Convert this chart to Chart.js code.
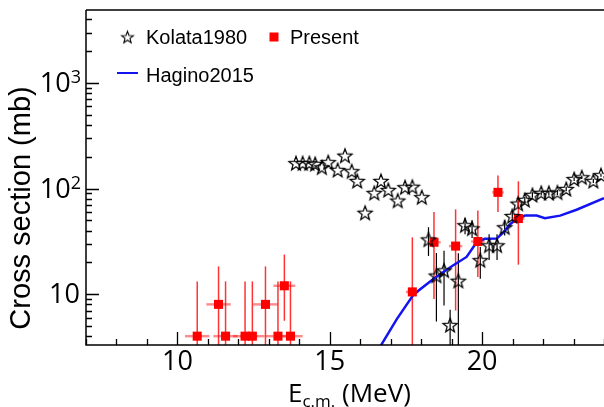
<!DOCTYPE html>
<html>
<head>
<meta charset="utf-8">
<script src="https://cdn.jsdelivr.net/npm/chart.js@4.4.0/dist/chart.umd.min.js"></script>
<style>
  html, body { margin: 0; padding: 0; background: #fff; overflow: hidden; }
</style>
</head>
<body>
<canvas id="xsec" width="604" height="407"></canvas>
<script>
// Kolata1980 (open stars)
const kolataE = [13.89, 14.11, 14.33, 14.52, 14.74, 14.95, 15.26, 15.50, 15.72, 15.90,
                 16.16, 16.46, 16.68, 16.92, 17.23, 17.47, 17.71, 18.02, 18.24, 18.50,
                 18.75, 18.95, 19.22, 19.44, 19.67, 19.94, 20.23, 20.49, 20.74, 20.99,
                 21.18, 21.40, 21.65, 21.94, 22.19, 22.47, 22.76, 23.02, 23.27, 23.65, 23.90];
const kolataXS = [174, 174, 174, 171, 159, 178, 150, 205, 146, 118,
                  59, 91, 118, 97, 77, 103, 104, 83, 33, 15,
                  16.8, 5.1, 13.4, 45, 42, 21, 29, 29, 43, 55,
                  72, 78, 87, 91, 91, 92, 99, 123, 128, 118, 134];
const kolataErr = [0, 0, 0, 0, 0, 0, 0, 0, 0, 0,
                   0, 0, 0, 0, 0, 0, 0, 0, 10, 9.5,
                   9, 2, 11, 8, 8, 7, 8, 8, 7, 6,
                   5, 5, 5, 5, 5, 5, 5, 5, 5, 5, 5];

// Present (red squares)
const presentE = [10.65, 11.35, 11.58, 12.22, 12.46, 12.89, 13.30, 13.51, 13.71,
                  17.71, 18.42, 19.13, 19.86, 20.52, 21.19];
const presentXS = [4, 8, 4, 4, 4, 8, 4, 12, 4, 10.5, 31, 28.5, 31.5, 92, 52];
const presentErrHi = [9.2, 10.3, 9.2, 9.2, 9.2, 10.3, 9.2, 11.7, 9.2, 24, 29, 35, 30.5, 41, 65];
const presentErrLo = [4, 8, 4, 4, 4, 8, 4, 6.4, 4, 10.5, 22, 21.5, 17, 32, 33];
const presentErrE = [0.4, 0.4, 0.4, 0.4, 0.4, 0.4, 0.4, 0.36, 0.4, 0.21, 0.22, 0.22, 0.22, 0.19, 0.2];

// Hagino2015 (blue curve)
const haginoE = [16.60, 17.20, 17.76, 18.40, 19.03, 19.49, 19.82, 20.09, 20.48,
                 20.70, 20.92, 21.14, 21.41, 21.79, 22.06, 22.56, 23.10, 24.00];
const haginoXS = [3.0, 5.8, 10.0, 13.9, 18.6, 22.5, 31, 33.4, 33.6,
                  38.5, 46, 51.6, 55.4, 55.4, 52.3, 55.4, 63, 81];

const xMajorTicks = [10, 15, 20];
const yMajorTicks = [10, 100, 1000];

const RED = '#ff0000';
const BLUE = 'rgb(20, 20, 240)';

function makeStar(r, lw) {
    const c = document.createElement('canvas');
    const size = Math.ceil(2 * r + 2 * lw + 2);
    c.width = c.height = size;
    const g = c.getContext('2d');
    const cx = size / 2, cy = size / 2 + r * 0.1;
    g.beginPath();
    for (let i = 0; i < 10; i++) {
        const rad = i % 2 ? r * 0.42 : r;
        const ang = -Math.PI / 2 + i * Math.PI / 5;
        g.lineTo(cx + rad * Math.cos(ang), cy + rad * Math.sin(ang));
    }
    g.closePath();
    g.strokeStyle = '#000';
    g.lineWidth = lw;
    g.stroke();
    return c;
}

const starImg = makeStar(7.4, 1.25);
const legendStar = makeStar(6.2, 1.1);

const errorBars = {
    id: 'errorBars',
    beforeDatasetsDraw(chart) {
        const { ctx, chartArea: a, scales: { x, y } } = chart;
        const yPix = v => v > 0 ? y.getPixelForValue(v) : a.bottom + 10;
        ctx.save();
        ctx.beginPath();
        ctx.rect(a.left, a.top, a.right - a.left, a.bottom - a.top);
        ctx.clip();

        ctx.strokeStyle = '#000';
        ctx.lineWidth = 1.2;
        kolataE.forEach((e, i) => {
            if (!kolataErr[i]) return;
            const px = x.getPixelForValue(e);
            ctx.beginPath();
            ctx.moveTo(px, yPix(kolataXS[i] - kolataErr[i]));
            ctx.lineTo(px, yPix(kolataXS[i] + kolataErr[i]));
            ctx.stroke();
        });

        ctx.strokeStyle = 'rgba(255, 0, 0, 0.45)';
        ctx.lineWidth = 2.5;
        presentE.forEach((e, i) => {
            const py = y.getPixelForValue(presentXS[i]);
            ctx.beginPath();
            ctx.moveTo(x.getPixelForValue(e - presentErrE[i]), py);
            ctx.lineTo(x.getPixelForValue(e + presentErrE[i]), py);
            ctx.stroke();
        });

        ctx.strokeStyle = 'rgba(255, 0, 0, 0.8)';
        ctx.lineWidth = 1.5;
        presentE.forEach((e, i) => {
            const px = x.getPixelForValue(e);
            ctx.beginPath();
            ctx.moveTo(px, yPix(presentXS[i] - presentErrLo[i]));
            ctx.lineTo(px, yPix(presentXS[i] + presentErrHi[i]));
            ctx.stroke();
        });
        ctx.restore();
    }
};

const frameAndLabels = {
    id: 'frameAndLabels',
    afterDraw(chart) {
        const { ctx, chartArea: a, scales: { x, y } } = chart;
        ctx.save();
        ctx.strokeStyle = '#000';
        ctx.lineWidth = 1.5;
        ctx.beginPath();
        ctx.moveTo(a.left, a.top);
        ctx.lineTo(a.right + 2, a.top);
        ctx.moveTo(a.left, a.top);
        ctx.lineTo(a.left, a.bottom);
        ctx.lineTo(a.right + 2, a.bottom);
        ctx.stroke();

        // inward ticks
        ctx.lineWidth = 1.3;
        ctx.beginPath();
        for (let e = Math.ceil(x.min); e <= x.max; e++) {
            const px = Math.round(x.getPixelForValue(e)) + 0.5;
            const len = xMajorTicks.includes(e) ? 13 : 6;
            ctx.moveTo(px, a.bottom);
            ctx.lineTo(px, a.bottom - len);
        }
        for (let d = 1; d <= 1000; d *= 10) {
            for (let m = 1; m <= 9; m++) {
                const v = m * d;
                if (v < y.min || v > y.max) continue;
                const py = Math.round(y.getPixelForValue(v)) + 0.5;
                const len = m === 1 ? 13 : 6;
                ctx.moveTo(a.left, py);
                ctx.lineTo(a.left + len, py);
            }
        }
        ctx.stroke();

        ctx.fillStyle = '#000';
        // x tick labels
        ctx.font = '27px "Open Sans", sans-serif';
        ctx.textAlign = 'center';
        ctx.textBaseline = 'alphabetic';
        xMajorTicks.forEach(v => {
            ctx.fillText(String(v), x.getPixelForValue(v), 370);
        });

        // y tick labels with superscript exponent
        ctx.textAlign = 'right';
        yMajorTicks.forEach(v => {
            const py = y.getPixelForValue(v);
            const exp = Math.round(Math.log10(v));
            if (exp === 1) {
                ctx.font = '27px "Open Sans", sans-serif';
                ctx.fillText('10', 80, py + 9);
            } else {
                ctx.font = '18px "Open Sans", sans-serif';
                ctx.fillText(String(exp), 81, py);
                const w = ctx.measureText(String(exp)).width;
                ctx.font = '27px "Open Sans", sans-serif';
                ctx.fillText('10', 81 - w, py + 9);
            }
        });

        // y title
        ctx.save();
        ctx.translate(30, 208);
        ctx.rotate(-Math.PI / 2);
        ctx.textAlign = 'center';
        ctx.font = '29px "Liberation Sans", Arial, sans-serif';
        ctx.fillText('Cross section (mb)', 0, 0);
        ctx.restore();

        // x title: E subscript c.m.
        ctx.textAlign = 'left';
        let tx = 288;
        ctx.font = '26px "Open Sans", sans-serif';
        ctx.fillText('E', tx, 402);
        tx += ctx.measureText('E').width;
        ctx.font = '17px "Open Sans", sans-serif';
        ctx.fillText('c.m.', tx, 407);
        tx += ctx.measureText('c.m.').width;
        ctx.font = '26px "Open Sans", sans-serif';
        ctx.fillText(' (MeV)', tx, 402);

        // legend
        const ds = chart.data.datasets;
        ctx.font = '20px "Liberation Sans", Arial, sans-serif';
        ctx.drawImage(legendStar, 127.5 - legendStar.width / 2, 37 - legendStar.height / 2);
        ctx.fillText(ds[0].label, 146, 44);
        ctx.fillStyle = RED;
        ctx.fillRect(269.5, 32.5, 9, 9);
        ctx.fillStyle = '#000';
        ctx.fillText(ds[1].label, 290, 44);
        ctx.strokeStyle = BLUE;
        ctx.lineWidth = 2;
        ctx.beginPath();
        ctx.moveTo(117, 73);
        ctx.lineTo(138, 73);
        ctx.stroke();
        ctx.fillText(ds[2].label, 146, 81.5);
        ctx.restore();
    }
};

new Chart(document.getElementById('xsec'), {
    type: 'scatter',
    data: {
        datasets: [
            {
                label: 'Kolata1980',
                data: kolataE.map((e, i) => ({ x: e, y: kolataXS[i] })),
                pointStyle: starImg,
                pointRadius: 8,
                order: 0
            },
            {
                label: 'Present',
                data: presentE.map((e, i) => ({ x: e, y: presentXS[i] })),
                pointStyle: 'rect',
                pointRadius: 6.4,
                backgroundColor: RED,
                borderWidth: 0,
                order: 1
            },
            {
                label: 'Hagino2015',
                type: 'line',
                data: haginoE.map((e, i) => ({ x: e, y: haginoXS[i] })),
                borderColor: BLUE,
                borderWidth: 2.5,
                pointRadius: 0,
                fill: false,
                tension: 0,
                order: 2
            }
        ]
    },
    options: {
        responsive: false,
        animation: false,
        events: [],
        layout: { autoPadding: false, padding: { top: 10, left: 0, right: 0, bottom: 0 } },
        plugins: {
            legend: { display: false },
            tooltip: { enabled: false }
        },
        scales: {
            x: {
                type: 'linear',
                min: 7,
                max: 24,
                bounds: 'data',
                grid: { display: false, drawTicks: false },
                border: { display: false },
                ticks: { display: false },
                afterFit: s => { s.height = 62; }
            },
            y: {
                type: 'logarithmic',
                min: 3.3,
                max: 4900,
                bounds: 'data',
                grid: { display: false, drawTicks: false },
                border: { display: false },
                ticks: { display: false },
                afterFit: s => { s.width = 86; }
            }
        }
    },
    plugins: [errorBars, frameAndLabels]
});
</script>
</body>
</html>
